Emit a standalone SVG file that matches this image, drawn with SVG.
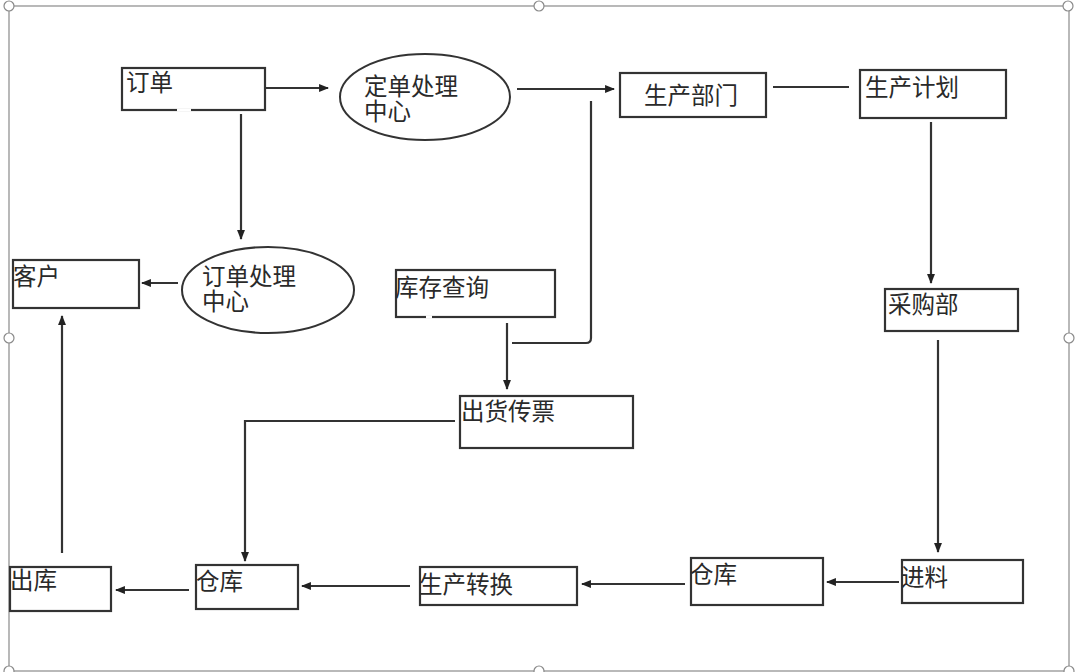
<svg xmlns="http://www.w3.org/2000/svg" width="1078" height="672" viewBox="0 0 1078 672">
<style>
.frame{fill:none;stroke:#8a8a8a;stroke-width:1.2}
.handle{fill:#fff;stroke:#8a8a8a;stroke-width:1.2}
.box{fill:#fff;stroke:#333;stroke-width:2.2}
.ell{fill:#fff;stroke:#333;stroke-width:2}
.ln{fill:none;stroke:#333;stroke-width:2.2}
.t{font-family:"Noto Sans CJK SC","Noto Sans CJK JP",sans-serif;font-size:23.5px;fill:#2a2a2a}
</style>
<defs>
<marker id="ah" viewBox="0 0 10 10" refX="9" refY="5" markerWidth="4.5" markerHeight="4.5" orient="auto" markerUnits="strokeWidth">
<path d="M0,1 L10,5 L0,9 Z" fill="#222"/>
</marker>
</defs>
<rect width="1078" height="672" fill="#fff"/>
<g id="frame">
<rect class="frame" x="9" y="6" width="1060" height="665"/>
<circle class="handle" cx="9" cy="6" r="5"/>
<circle class="handle" cx="539" cy="6" r="5"/>
<circle class="handle" cx="1068" cy="6" r="5"/>
<circle class="handle" cx="9" cy="338" r="5"/>
<circle class="handle" cx="1069" cy="338" r="5"/>
<circle class="handle" cx="9" cy="671" r="5"/>
<circle class="handle" cx="539" cy="671" r="5"/>
<circle class="handle" cx="1069" cy="671" r="5"/>
</g>
<g id="connectors">
<path class="ln" d="M266,88 H328" marker-end="url(#ah)"/>
<path class="ln" d="M517,89 H614" marker-end="url(#ah)"/>
<path class="ln" d="M773,87 H849"/>
<path class="ln" d="M931,122 V283" marker-end="url(#ah)"/>
<path class="ln" d="M938,340 V552" marker-end="url(#ah)"/>
<path class="ln" d="M899,582 H827" marker-end="url(#ah)"/>
<path class="ln" d="M685,584 H582" marker-end="url(#ah)"/>
<path class="ln" d="M410,586 H302" marker-end="url(#ah)"/>
<path class="ln" d="M189,590 H116" marker-end="url(#ah)"/>
<path class="ln" d="M62,553 V316" marker-end="url(#ah)"/>
<path class="ln" d="M178,283 H142" marker-end="url(#ah)"/>
<path class="ln" d="M241,114 V239" marker-end="url(#ah)"/>
<path class="ln" d="M507,323 V389" marker-end="url(#ah)"/>
<path class="ln" d="M591,101 V338 Q591,343 586,343 H512"/>
<path class="ln" d="M455,421 H245 V561" marker-end="url(#ah)"/>
</g>
<g id="n-dingdan">
<rect class="box" x="122" y="68" width="143" height="42"/>
<line x1="177" y1="110" x2="191" y2="110" stroke="#fff" stroke-width="3"/>
<text class="t" x="126" y="91">订单</text>
</g>
<g id="n-dingdan-center">
<ellipse class="ell" cx="425" cy="97" rx="85" ry="43"/>
<text class="t" x="364" y="95">定单处理<tspan x="364" dy="25">中心</tspan></text>
</g>
<g id="n-shengchanbumen">
<rect class="box" x="620" y="73" width="146" height="44"/>
<text class="t" x="644" y="104">生产部门</text>
</g>
<g id="n-shengchanjihua">
<rect class="box" x="860" y="70" width="146" height="48"/>
<text class="t" x="865" y="96">生产计划</text>
</g>
<g id="n-caigoubu">
<rect class="box" x="885" y="289" width="133" height="42"/>
<text class="t" x="888" y="313">采购部</text>
</g>
<g id="n-kehu">
<rect class="box" x="13" y="260" width="126" height="48"/>
<text class="t" x="13" y="285">客户</text>
</g>
<g id="n-dingdan-chuli">
<ellipse class="ell" cx="268" cy="290" rx="86" ry="43"/>
<text class="t" x="202" y="285">订单处理<tspan x="202" dy="25">中心</tspan></text>
</g>
<g id="n-kucun">
<rect class="box" x="396" y="270" width="159" height="47"/>
<line x1="426" y1="317" x2="432" y2="317" stroke="#fff" stroke-width="3"/>
<text class="t" x="395" y="296">库存查询</text>
</g>
<g id="n-chuhuo">
<rect class="box" x="460" y="396" width="173" height="52"/>
<text class="t" x="461" y="420">出货传票</text>
</g>
<g id="n-jinliao">
<rect class="box" x="902" y="560" width="121" height="43"/>
<text class="t" x="901" y="586">进料</text>
</g>
<g id="n-cangku-r">
<rect class="box" x="691" y="558" width="132" height="47"/>
<text class="t" x="690" y="583">仓库</text>
</g>
<g id="n-shengchanzhuanhuan">
<rect class="box" x="420" y="567" width="157" height="38"/>
<text class="t" x="419" y="593">生产转换</text>
</g>
<g id="n-cangku-l">
<rect class="box" x="196" y="565" width="102" height="44"/>
<text class="t" x="196" y="590">仓库</text>
</g>
<g id="n-chuku">
<rect class="box" x="10" y="567" width="101" height="44"/>
<text class="t" x="10" y="589">出库</text>
</g>
</svg>
